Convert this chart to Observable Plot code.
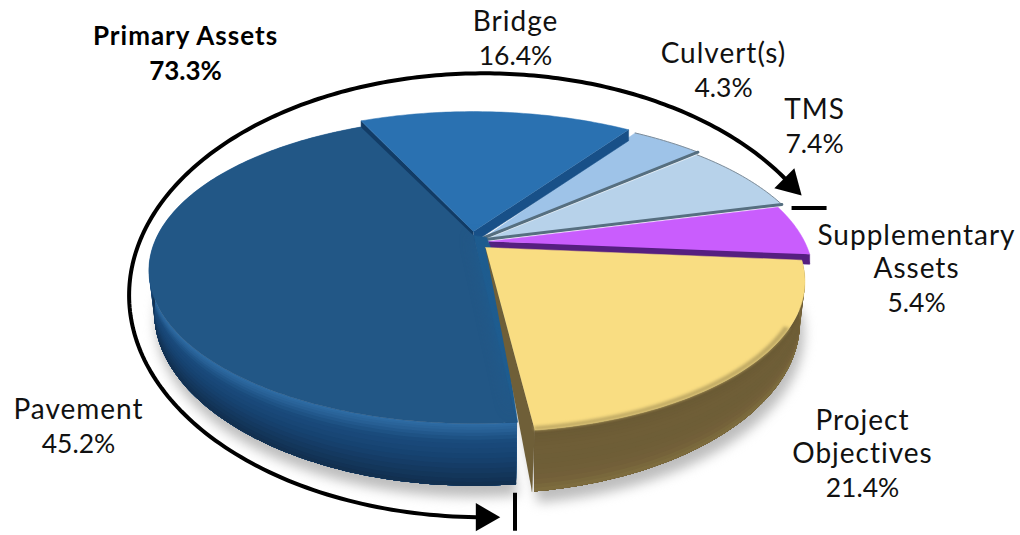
<!DOCTYPE html>
<html><head><meta charset="utf-8">
<script src="https://cdn.jsdelivr.net/npm/d3@7"></script>
<script src="https://cdn.jsdelivr.net/npm/@observablehq/plot@0.6"></script>
<style>html,body{margin:0;padding:0;background:#fff}svg{display:block}.sp text{letter-spacing:1px}</style>
</head><body><div id="c"></div>
<script>
// Data, clockwise from the Bridge slice
const categories = ["Bridge","Culvert(s)","TMS","Supplementary Assets","Project Objectives","Pavement"];
const shares = [16.4,4.3,7.4,5.4,21.4,45.2];
const groupLabel = "Primary Assets";
const groupShare = 73.3;

// Presentation
const topColors = ["#2a71b1","#9ec3e8","#b7d2ea","#c95dfd","#f9dd82","#225786"];
const wallStops = {
  Pavement:["#2f6ca4","#1a4b7c","#164270","#14385e","#112d4c"],
  "Project Objectives":["#6a5a34","#6f5e37","#6e5e37","#725f39","#80703f"]
};
const offsets = [[-10,-12],[1,-6],[2,-4],[5,-2],[2,4],[-10,-8]];
const radii = [1.02,1.035,1.025,1,.985,1];
const edgeNudge = [[.5,1.5],[0,0],[0,0],[0,0],[0,1],[2,0]];
const labelPos = [[515,38],[723,70],[814,126],[916,285],[862,470],[78,426]];

// Perspective view of the pie disc
const CX=483, S=316, C=0.2288, A=-89.4, B=243, D=37, START=-25.5;
const rad=d=>d*Math.PI/180;
function P(theta,k,z,o){
  const u=k*Math.sin(rad(theta)), v=k*Math.cos(rad(theta)), w=1+C*v;
  const x=CX+(S*u/w)*(1-0.016*z), y=(A*v+B)/w+z*D/(w*w);
  return {x:x+o[0], y:y+o[1]};
}
const total=d3.sum(shares);
let cum=START;
const slices=categories.map((name,i)=>{
  const a0=cum, a1=cum+shares[i]/total*360; cum=a1;
  return {name,value:shares[i],a0:a0+edgeNudge[i][0],a1:a1+edgeNudge[i][1],o:offsets[i],k:radii[i],color:topColors[i],pos:labelPos[i]};
});
const steps=(a,b)=>{const n=Math.max(2,Math.ceil(Math.abs(b-a)));return d3.range(n+1).map(i=>a+(b-a)*i/n)};
let pid=0;
function poly(pts,fill){const id=pid++;return pts.map(p=>({id,x:p.x,y:p.y,fill}))}
const topFace=s=>poly([P(0,0,0,s.o),...steps(s.a0,s.a1).map(t=>P(t,s.k,0,s.o))],s.color);
function wall(s,stops){
  const rows=[];const col=d3.scaleLinear().domain(d3.range(stops.length).map(i=>i/(stops.length-1))).range(stops);
  const zs=[0,.03,.06,.1,.15,.2,.26,.32,.4,.48,.56,.64,.72,.8,.88,.94];
  const ts=steps(s.a0,s.a1);
  for(const z of zs){
    rows.push(...poly([...ts.map(t=>P(t,s.k,z,s.o)),...ts.slice().reverse().map(t=>P(t,s.k,1,s.o))],col(z)));
  }
  return rows;
}
const [bridge,culvert,tms,supp,proj,pave]=slices;

// cut faces seen along the radial edges
const edgeFace=(s,t,px,fill)=>poly([P(0,0,0,s.o),P(t,s.k,0,s.o),P(t,s.k,0,[s.o[0],s.o[1]+px]),P(0,0,0,[s.o[0],s.o[1]+px])],fill);
const backRows=[...topFace(culvert),...topFace(tms)];
const suppRows=[
  ...poly([...steps(supp.a0,supp.a1).map(t=>P(t,1,0,[supp.o[0],supp.o[1]+9])).reverse(),P(0,0,0,[supp.o[0],supp.o[1]+6])],"#561f80"),
  ...edgeFace(supp,supp.a1,10,"#561f80"),
  ...topFace(supp)];
const bridgeRows=[...edgeFace(bridge,bridge.a0,9,"#123c66"),...edgeFace(bridge,bridge.a1,11,"#185088"),...topFace(bridge)];
const paveWall=wall(pave,wallStops.Pavement);
const paveEnd=poly([P(pave.a0,1,0,pave.o),P(pave.a0,1,1,pave.o),P(0,0,0,pave.o)],"#143a60");
const paveTop=topFace(pave);
const paveFace=poly([P(0,0,0,pave.o),P(0,0,0,[pave.o[0]+13,pave.o[1]+2]),P(0,0,0,[pave.o[0]+18,pave.o[1]+14]),P(pave.a0,1,0,[pave.o[0]+1,pave.o[1]+0]),P(pave.a0,1,0,[pave.o[0]-2,pave.o[1]])],"#1e5c8f");
const paveSoft=poly([P(pave.a0,.96,0,[pave.o[0]-2,pave.o[1]]),P(pave.a0-12,.3,0,[pave.o[0]+4,pave.o[1]]),P(0,0,0,pave.o)],"#1e5c8f");
const projCut=poly([P(0,0,0,proj.o),P(proj.a1,proj.k,0,proj.o),P(proj.a1,proj.k,1,[proj.o[0]-2,proj.o[1]])],"#6f5f38");
const projWall=wall(proj,wallStops["Project Objectives"]);
const projTop=topFace(proj);
const projRim=poly([...steps(proj.a0+25,proj.a1).map(t=>P(t,proj.k,0,proj.o)),...steps(proj.a0+25,proj.a1).reverse().map(t=>P(t,proj.k*.985,0,proj.o))],"#bfa964");

const shadowRows=[
 ...poly([...steps(pave.a0,pave.a1-60).map(t=>P(t,1,1,[pave.o[0]+2,pave.o[1]+11])),P(0,0,0,pave.o)],"#bdbdbd"),
 ...poly([...steps(proj.a0,proj.a1).map(t=>P(t,proj.k,1,[proj.o[0]+4,proj.o[1]+11])),P(0,0,0,proj.o)],"#bdbdbd")];

// Bracket arc: same view, wider, spanning the primary group's share
function Q(theta){const u=Math.sin(rad(theta)),v=Math.cos(rad(theta)),w=1+C*v;return {x:CX+345*u/w,y:(-154.5*v+244)/w}}
const groupSpan=groupShare/total*360, arcEnd=tms.a1, arcStart=arcEnd-groupSpan;
const arcRows=steps(arcStart+8,arcEnd-3.5).map(Q);
const arrows=[{...Q(arcStart+8),rotate:90},{...Q(arcEnd-3.5),rotate:135}];
const q1=Q(arcEnd), q0=Q(arcStart);
const ticks=[{x1:q1.x-8,x2:q1.x+27,y1:q1.y+13,y2:q1.y+13},{x1:q0.x-31,x2:q0.x-31,y1:q0.y-21,y2:q0.y+17}];

const separators=[
 [P(0,0,0,culvert.o),P(culvert.a1,culvert.k,0,culvert.o)],
 [P(0,0,0,tms.o),P(tms.a1,tms.k,0,tms.o)]
].flatMap((l,i)=>l.map(p=>({...p,i})));
const outlineRows=[...steps(culvert.a0,culvert.a1).map(t=>({...P(t,culvert.k,0,culvert.o),i:0})),...steps(tms.a0,tms.a1).map(t=>({...P(t,tms.k,0,tms.o),i:1}))];

const nameLine=n=>n==="Supplementary Assets"?"Supplementary\nAssets":n==="Project Objectives"?"Project\nObjectives":n;
const labelRows=slices.map(s=>({x:s.pos[0],y:s.pos[1],name:nameLine(s.name),pct:`${s.value.toFixed(1)}%`}));
const LF="Lato, 'Open Sans', sans-serif";
const fillPoly=(rows,opts={})=>Plot.line(rows,{x:"x",y:"y",z:"id",fill:"fill",stroke:"fill",strokeWidth:.5,curve:"linear",...opts});

const chart=Plot.plot({
  width:1020,height:535,margin:0,
  x:{domain:[0,1020],range:[0,1020],axis:null},
  y:{domain:[0,535],range:[0,535],axis:null},
  color:{type:"identity"},
  marks:[
    fillPoly(shadowRows,{imageFilter:"blur(6px)"}),
    fillPoly(backRows),
    Plot.line(outlineRows,{x:"x",y:"y",z:"i",stroke:"#7f8d99",strokeWidth:1}),
    Plot.line(separators,{x:"x",y:"y",z:"i",stroke:"#566f80",strokeWidth:3}),
    fillPoly(suppRows),
    fillPoly(bridgeRows),
    fillPoly(paveEnd),
    fillPoly(paveWall,{imageFilter:"blur(.6px)",strokeWidth:0}),
    fillPoly(paveFace),
    fillPoly(paveTop),
    fillPoly(paveSoft,{imageFilter:"blur(7px)",strokeOpacity:0}),
    fillPoly(projCut),
    fillPoly(projWall,{imageFilter:"blur(.6px)",strokeWidth:0}),
    fillPoly(projTop),
    fillPoly(projRim,{imageFilter:"blur(1.4px)"}),
    Plot.line(arcRows,{x:"x",y:"y",stroke:"#000",strokeWidth:4,curve:"linear"}),
    Plot.dot(arrows,{x:"x",y:"y",symbol:"triangle",r:10.5,fill:"#000",stroke:"none",rotate:"rotate"}),
    Plot.link(ticks,{x1:"x1",x2:"x2",y1:"y1",y2:"y2",stroke:"#000",strokeWidth:4}),
    Plot.text(labelRows,{x:"x",y:"y",dy:-8,text:"name",lineAnchor:"bottom",className:"sp",fontFamily:LF,fontSize:28,lineHeight:1.17,fill:"#111"}),
    Plot.text(labelRows,{x:"x",y:"y",dy:8,text:"pct",lineAnchor:"top",fontFamily:LF,fontSize:26.5,fill:"#111"}),
    Plot.text([groupLabel],{x:()=>185,y:()=>53,dy:-9,text:d=>d,lineAnchor:"bottom",className:"sp",fontFamily:LF,fontSize:26,fontWeight:700,fill:"#000"}),
    Plot.text([`${groupShare.toFixed(1)}%`],{x:()=>185,y:()=>53,dy:8,text:d=>d,lineAnchor:"top",fontFamily:LF,fontSize:26,fontWeight:700,fill:"#000"})
  ]
});
document.getElementById("c").append(chart);
</script></body></html>
